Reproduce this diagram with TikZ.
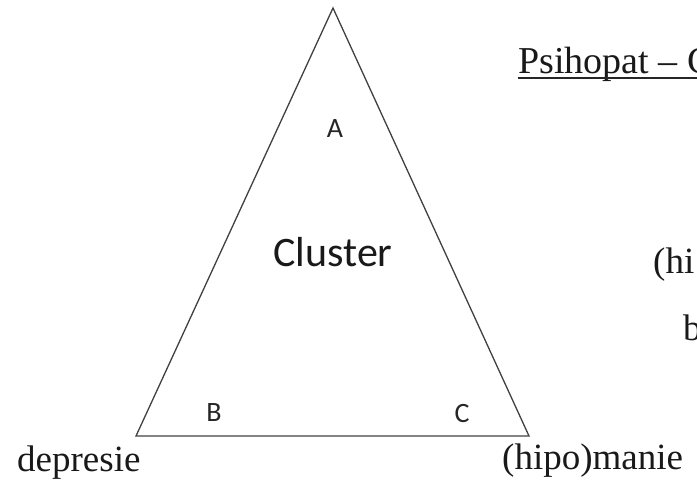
\documentclass[tikz,border=0pt]{standalone}
\usepackage{fontspec}
\setmainfont{Liberation Serif}
\newfontfamily\calibri{Carlito}
\begin{document}
\begin{tikzpicture}[x=1pt,y=-1pt,
  tri/.style={draw=black!75,line width=1.3pt,line join=miter},
  serif/.style={inner sep=0pt,anchor=base west,font=\fontsize{37}{44}\selectfont,text=black!90},
  corner/.style={inner sep=0pt,font=\calibri\fontsize{28}{34}\selectfont,text=black!85},
  big/.style={inner sep=0pt,font=\calibri\fontsize{42}{50}\selectfont,text=black!90}]
\useasboundingbox (0,0) rectangle (697,485);
\coordinate (apex) at (333,8);
\coordinate (bl) at (136,436);
\coordinate (br) at (529,436);
\draw[tri] (apex) -- (br) -- (bl) -- cycle;
\node[corner] (A) at (335,129) {A};
\node[corner] (B) at (214,413) {B};
\node[corner] (C) at (462,414) {C};
\node[big] (cl) at (333,252) {Cluster};
\node[serif] (dep) at (17,471) {depresie};
\node[serif] (man) at (502,469) {(hipo)manie};
\node[serif] (hi) at (653,273) {(hi};
\node[serif] (b) at (683,340) {b};
\node[serif,font=\fontsize{38}{45}\selectfont] (title) at (518,73) {Psihopat – C};
\draw[line width=1.6pt,black!85] ([yshift=-5pt]title.base west) -- ([yshift=-5pt]title.base east);
\end{tikzpicture}
\end{document}
